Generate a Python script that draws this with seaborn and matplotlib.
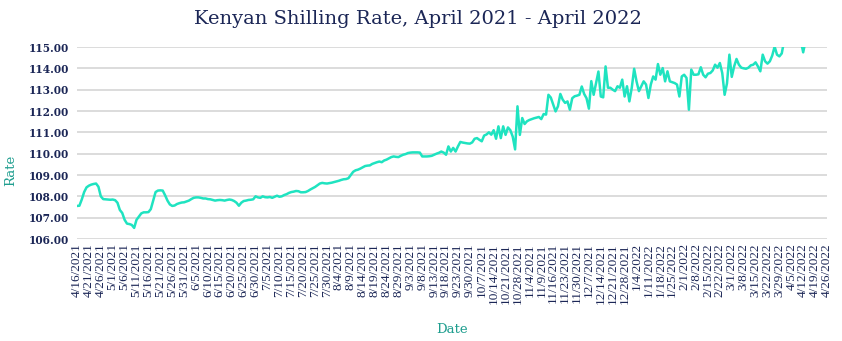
import numpy as np
import pandas as pd
import matplotlib
matplotlib.use("Agg")
import matplotlib.pyplot as plt
import seaborn as sns

# Tick labels on the category axis (one label every fifth observation)
tick_labels = [
    "4/16/2021", "4/21/2021", "4/26/2021", "5/1/2021", "5/6/2021", "5/11/2021",
    "5/16/2021", "5/21/2021", "5/26/2021", "5/31/2021", "6/5/2021", "6/10/2021",
    "6/15/2021", "6/20/2021", "6/25/2021", "6/30/2021", "7/5/2021", "7/10/2021",
    "7/15/2021", "7/20/2021", "7/25/2021", "7/30/2021", "8/4/2021", "8/9/2021",
    "8/14/2021", "8/19/2021", "8/24/2021", "8/29/2021", "9/3/2021", "9/8/2021",
    "9/13/2021", "9/18/2021", "9/23/2021", "9/30/2021", "10/7/2021", "10/14/2021",
    "10/21/2021", "10/28/2021", "11/4/2021", "11/9/2021", "11/16/2021",
    "11/23/2021", "11/30/2021", "12/7/2021", "12/14/2021", "12/21/2021",
    "12/28/2021", "1/4/2022", "1/11/2022", "1/18/2022", "1/25/2022", "2/1/2022",
    "2/8/2022", "2/15/2022", "2/22/2022", "3/1/2022", "3/8/2022", "3/15/2022",
    "3/22/2022", "3/29/2022", "4/5/2022", "4/12/2022", "4/19/2022", "4/26/2022",
]
label_step = 5

# KES per USD, one value per observation
rate = [
    107.55, 107.56, 107.85, 108.2, 108.42, 108.5, 108.55, 108.58, 108.6, 108.45,
    108.0, 107.87, 107.86, 107.85, 107.84, 107.85, 107.82, 107.7, 107.36, 107.22,
    106.9, 106.72, 106.7, 106.66, 106.52, 106.9, 107.05, 107.2, 107.25, 107.25,
    107.26, 107.4, 107.8, 108.2, 108.27, 108.28, 108.27, 108.05, 107.8, 107.62,
    107.55, 107.57, 107.64, 107.68, 107.71, 107.72, 107.76, 107.8, 107.87, 107.93,
    107.95, 107.95, 107.93, 107.9, 107.9, 107.87, 107.86, 107.83, 107.8, 107.82,
    107.83, 107.82, 107.8, 107.83, 107.85, 107.83, 107.78, 107.7, 107.56, 107.7,
    107.78, 107.8, 107.83, 107.84, 107.86, 108.0, 107.95, 107.93, 108.0, 107.96,
    107.95, 107.97, 107.93, 107.98, 108.03, 107.98, 108.0, 108.06, 108.1, 108.16,
    108.2, 108.22, 108.25, 108.24, 108.19, 108.19, 108.2, 108.25, 108.32, 108.38,
    108.44, 108.52, 108.6, 108.63, 108.61, 108.6, 108.62, 108.64, 108.67, 108.7,
    108.73, 108.77, 108.8, 108.81, 108.85, 109.0, 109.15, 109.22, 109.25, 109.3,
    109.36, 109.42, 109.44, 109.45, 109.52, 109.56, 109.6, 109.63, 109.6, 109.68,
    109.72, 109.78, 109.84, 109.87, 109.85, 109.84, 109.9, 109.95, 109.98, 110.03,
    110.05, 110.06, 110.06, 110.06, 110.05, 109.87, 109.87, 109.87, 109.88, 109.9,
    109.95, 110.0, 110.04, 110.1, 110.05, 109.95, 110.34, 110.1, 110.27, 110.1,
    110.34, 110.55, 110.52, 110.5, 110.48, 110.47, 110.53, 110.7, 110.73, 110.65,
    110.58, 110.85, 110.9, 111.0, 110.89, 111.1, 110.7, 111.28, 110.73, 111.28,
    110.88, 111.23, 111.1, 110.8, 110.2, 112.22, 110.88, 111.67, 111.39, 111.52,
    111.58, 111.62, 111.66, 111.69, 111.72, 111.62, 111.86, 111.83, 112.76, 112.63,
    112.3, 111.98, 112.22, 112.8, 112.53, 112.38, 112.45, 112.06, 112.6, 112.69,
    112.72, 112.76, 113.15, 112.8, 112.6, 112.11, 113.4, 112.76, 113.3, 113.85,
    112.68, 112.64, 114.09, 113.09, 113.09, 113.0, 112.93, 113.16, 113.09, 113.47,
    112.68, 113.16, 112.45, 113.09, 113.98, 113.39, 112.93, 113.16, 113.39, 113.24,
    112.61, 113.24, 113.62, 113.47, 114.2, 113.7, 114.01, 113.39, 113.86, 113.39,
    113.35, 113.31, 113.24, 112.68, 113.62, 113.7, 113.55, 112.06, 113.94, 113.7,
    113.7, 113.72, 114.05, 113.7, 113.58, 113.75, 113.78, 113.9, 114.17, 114.03,
    114.25, 113.78, 112.76, 113.3, 114.64, 113.6, 114.09, 114.44, 114.17, 114.03,
    114.0, 113.98, 114.03, 114.14, 114.17, 114.28, 114.09, 113.86, 114.64, 114.33,
    114.22, 114.33, 114.6, 115.02, 114.64, 114.56, 114.7, 115.3, 115.5, 115.6,
    115.5, 115.4, 115.6, 115.5, 115.3, 114.75, 115.3, 115.5,
]

y_ticks = [106, 107, 108, 109, 110, 111, 112, 113, 114, 115]

NAVY = "#1b2656"
TEAL = "#1f9e8f"
LINE = "#1fe3c0"
GRID = "#d9d9d9"

sns.set_theme(style="whitegrid")
plt.rcParams["font.family"] = ["DejaVu Serif"]

df = pd.DataFrame({"obs": np.arange(len(rate)), "Rate": rate})

fig = plt.figure(figsize=(8.42, 3.41), dpi=100)
ax = fig.add_axes([77 / 842, 1 - 239 / 341, 750 / 842, 192 / 341])

sns.lineplot(data=df, x="obs", y="Rate", ax=ax, color=LINE, linewidth=1.8)

n_span = (len(tick_labels) - 1) * label_step
ax.set_xlim(0, n_span)
ax.set_ylim(y_ticks[0], y_ticks[-1])

ax.set_xticks(np.arange(len(tick_labels)) * label_step)
ax.set_xticklabels(tick_labels, rotation=90, fontsize=9.5, color=NAVY,
                   family="Liberation Serif")
ax.set_yticks(y_ticks)
ax.set_yticklabels([f"{v:.2f}" for v in y_ticks], fontsize=7.6,
                   color=NAVY, fontweight="bold")
ax.tick_params(axis="x", length=0, pad=3)
ax.tick_params(axis="y", length=0, pad=6)

ax.grid(axis="x", visible=False)
ax.grid(axis="y", color=GRID, linewidth=1.3)
for spine in ax.spines.values():
    spine.set_visible(False)

ax.set_xlabel("Date", color=TEAL, fontsize=9.5)
ax.set_ylabel("Rate", color=TEAL, fontsize=9.5)
ax.xaxis.set_label_coords(0.5, -0.469)
ax.yaxis.set_label_coords(-0.088, 0.36)
ax.xaxis.label.set_va("center")
ax.yaxis.label.set_va("center")

fig.suptitle("Kenyan Shilling Rate, April 2021 - April 2022", x=418 / 842,
             y=1 - 19 / 341, va="center", fontsize=14, color=NAVY)

fig.savefig("out.png", dpi=100, facecolor="white")
